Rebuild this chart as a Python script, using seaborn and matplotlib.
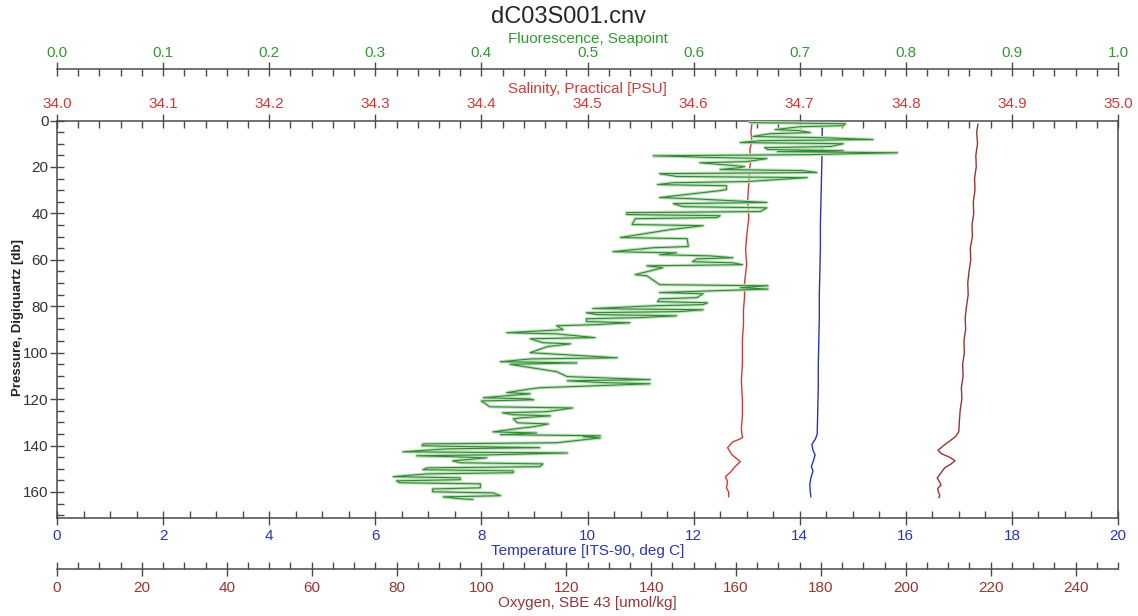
import matplotlib
matplotlib.use("Agg")
import matplotlib.pyplot as plt
import seaborn as sns
from matplotlib.ticker import MultipleLocator, FormatStrFormatter

# --- data ------------------------------------------------------------------
fluor_pres = [0.9, 1.4, 2.2, 2.7, 3.9, 4.4, 5.2, 5.7, 6.9, 7.4, 8.2, 8.7, 9.5, 10.0,
              11.2, 11.7, 12.5, 13.0, 13.4, 13.9, 14.7, 15.2, 15.9, 16.4, 17.7, 18.2,
              19.8, 20.3, 21.1, 21.6, 22.4, 22.9, 24.1, 24.6, 26.3, 26.8, 27.6, 28.1,
              29.7, 30.2, 33.2, 33.7, 35.3, 35.8, 37.1, 37.6, 39.2, 39.7, 40.5, 41.0,
              41.8, 42.3, 44.8, 45.3, 47.0, 50.4, 50.9, 54.3, 54.8, 56.5, 57.0, 57.8,
              58.3, 59.1, 59.6, 60.8, 61.3, 62.1, 62.6, 63.4, 66.4, 66.9, 70.7, 71.2,
              72.0, 72.6, 74.1, 74.6, 76.3, 76.8, 78.0, 78.5, 79.3, 79.8, 81.0, 81.5,
              82.3, 82.8, 83.6, 84.1, 84.9, 85.4, 86.6, 87.1, 87.9, 88.4, 90.1, 91.4,
              91.9, 93.5, 94.0, 95.7, 96.2, 97.4, 100.0, 100.5, 102.2, 102.7, 103.9,
              104.4, 105.0, 108.2, 110.3, 111.6, 112.1, 112.9, 113.4, 115.1, 115.6,
              117.2, 117.7, 119.4, 119.9, 120.3, 120.8, 123.3, 123.8, 125.4, 125.9,
              126.7, 127.2, 128.0, 128.5, 130.2, 130.7, 131.9, 132.4, 134.1, 134.6,
              135.3, 135.8, 136.2, 136.7, 138.8, 139.3, 140.1, 140.4, 140.9, 141.4,
              142.7, 143.2, 144.0, 144.4, 144.8, 145.3, 146.1, 146.6, 147.4, 147.9,
              149.1, 149.6, 150.4, 150.9, 151.7, 152.2, 153.4, 153.9, 154.7, 155.2,
              156.0, 156.5, 158.2, 158.7, 159.9, 160.4, 161.6, 162.1, 162.9, 163.2]
fluor_vals = [0.653, 0.743, 0.741, 0.700, 0.677, 0.700, 0.710, 0.672, 0.656, 0.722,
              0.769, 0.663, 0.644, 0.741, 0.729, 0.667, 0.670, 0.741, 0.679, 0.792,
              0.707, 0.562, 0.615, 0.669, 0.650, 0.606, 0.648, 0.644, 0.625, 0.703,
              0.716, 0.568, 0.584, 0.707, 0.650, 0.581, 0.566, 0.631, 0.631, 0.625,
              0.568, 0.599, 0.669, 0.581, 0.590, 0.669, 0.663, 0.537, 0.537, 0.625,
              0.622, 0.545, 0.542, 0.609, 0.578, 0.531, 0.594, 0.595, 0.562, 0.524,
              0.584, 0.568, 0.615, 0.637, 0.603, 0.599, 0.637, 0.646, 0.556, 0.571,
              0.545, 0.556, 0.568, 0.670, 0.644, 0.670, 0.568, 0.609, 0.603, 0.568,
              0.566, 0.613, 0.609, 0.562, 0.505, 0.609, 0.587, 0.499, 0.509, 0.584,
              0.549, 0.499, 0.499, 0.540, 0.509, 0.471, 0.477, 0.424, 0.471, 0.507,
              0.446, 0.458, 0.484, 0.462, 0.446, 0.465, 0.528, 0.446, 0.418, 0.490,
              0.427, 0.471, 0.481, 0.559, 0.481, 0.515, 0.559, 0.455, 0.446, 0.424,
              0.446, 0.402, 0.446, 0.449, 0.400, 0.408, 0.486, 0.462, 0.420, 0.430,
              0.465, 0.439, 0.430, 0.434, 0.463, 0.449, 0.439, 0.411, 0.452, 0.418,
              0.512, 0.496, 0.512, 0.471, 0.345, 0.344, 0.383, 0.455, 0.368, 0.326,
              0.481, 0.408, 0.339, 0.373, 0.405, 0.386, 0.373, 0.380, 0.458, 0.455,
              0.349, 0.345, 0.430, 0.430, 0.349, 0.317, 0.380, 0.380, 0.320, 0.323,
              0.399, 0.399, 0.354, 0.354, 0.411, 0.418, 0.364, 0.380, 0.392]

sal_pres = [1.3, 5.0, 9.0, 12.5, 17.0, 20.0, 27.0, 34.0, 42.0, 50.0, 55.6, 62.0, 70.0,
            76.0, 81.5, 88.0, 94.0, 98.7, 105.0, 112.0, 120.3, 127.0, 133.0, 136.6,
            137.5, 138.4, 140.9, 143.9, 146.9, 149.1, 151.3, 153.4, 155.6, 158.2,
            160.0, 162.1]
sal_vals = [34.655, 34.654, 34.655, 34.653, 34.654, 34.653, 34.652, 34.651, 34.652,
            34.650, 34.649, 34.650, 34.648, 34.648, 34.647, 34.647, 34.646, 34.646,
            34.646, 34.645, 34.646, 34.646, 34.645, 34.646, 34.642, 34.637, 34.632,
            34.636, 34.644, 34.639, 34.635, 34.630, 34.632, 34.631, 34.633, 34.633]

temp_pres = [1.7, 8.0, 15.0, 25.0, 35.0, 45.0, 55.0, 65.0, 75.0, 85.0, 95.0, 105.0,
             115.0, 125.0, 135.0, 137.0, 139.5, 142.0, 144.0, 146.5, 149.0, 151.0,
             154.0, 157.0, 160.0, 162.1]
temp_vals = [14.43, 14.42, 14.42, 14.41, 14.40, 14.39, 14.39, 14.38, 14.37, 14.37,
             14.36, 14.35, 14.35, 14.34, 14.33, 14.30, 14.23, 14.25, 14.29, 14.26,
             14.22, 14.25, 14.21, 14.19, 14.20, 14.21]

oxy_pres = [1.5, 5, 10, 15, 20, 25, 30, 35, 40, 45, 50, 55, 60, 65, 70, 75, 80, 85,
            90, 95, 100, 105, 110, 115, 120, 125, 130, 134, 136, 138, 140, 142, 143.5,
            145, 146.5, 148, 149.5, 151, 152.5, 154, 155.5, 157, 158.5, 160, 161.5,
            162.5]
oxy_vals = [217.0, 216.7, 216.9, 216.5, 216.6, 216.2, 216.3, 215.9, 216.0, 215.6,
            215.7, 215.2, 215.3, 214.9, 214.6, 214.7, 214.3, 214.0, 214.1, 213.7,
            213.8, 213.4, 213.5, 213.1, 213.2, 212.8, 212.6, 212.5, 211.8, 210.4,
            208.9, 207.6, 208.4, 210.3, 211.6, 210.6, 209.2, 208.6, 208.0, 207.4,
            207.9, 208.3, 207.5, 207.7, 208.0, 207.8]

# --- style -----------------------------------------------------------------
sns.set_style("white")
plt.rcParams["font.family"] = ["Liberation Sans Narrow", "Liberation Sans", "DejaVu Sans"]

GREEN = "#339933"
RED = "#d03a3a"
BLUE = "#2b35b0"
BROWN = "#953535"
AXC = "#4a4a4a"
W, H = 1138, 616

fig = plt.figure(figsize=(W / 100, H / 100), dpi=100)
ax_t = fig.add_axes([57 / W, 1 - 518 / H, (1118 - 57) / W, (518 - 120.5) / H])
ax_s = ax_t.twiny()
ax_f = ax_t.twiny()
ax_o = ax_t.twiny()

# lines
sns.lineplot(x=fluor_vals, y=fluor_pres, sort=False, estimator=None, ax=ax_f,
             color="#bfe0bf", lw=2.4)
sns.lineplot(x=fluor_vals, y=fluor_pres, sort=False, estimator=None, ax=ax_f,
             color="#338833", lw=0.8)
sns.lineplot(x=sal_vals, y=sal_pres, sort=False, estimator=None, ax=ax_s,
             color=RED, lw=1.0)
sns.lineplot(x=temp_vals, y=temp_pres, sort=False, estimator=None, ax=ax_t,
             color=BLUE, lw=1.0)
sns.lineplot(x=oxy_vals, y=oxy_pres, sort=False, estimator=None, ax=ax_o,
             color=BROWN, lw=1.0)

ax_t.set_ylim(171.2, 0)
ax_t.set_xlim(0, 20)
ax_s.set_xlim(34.0, 35.0)
ax_f.set_xlim(0.0, 1.0)
ax_o.set_xlim(0, 250)

for a in (ax_t, ax_s, ax_f, ax_o):
    for sp in a.spines.values():
        sp.set_visible(False)
        sp.set_color(AXC)
        sp.set_linewidth(1.1)
    a.set_xlabel("")
    a.set_ylabel("")
    a.grid(False)

ax_t.spines["left"].set_visible(True)
ax_t.spines["right"].set_visible(True)
ax_t.spines["bottom"].set_visible(True)
ax_s.spines["top"].set_visible(True)
ax_f.spines["top"].set_visible(True)
ax_f.spines["top"].set_position(("outward", (120.5 - 69) * 0.72))
ax_o.xaxis.set_ticks_position("bottom")
ax_o.spines["bottom"].set_visible(True)
ax_o.spines["bottom"].set_position(("outward", (569 - 518) * 0.72))

def style_axis(axis, major, minor, fmt):
    axis.set_major_locator(MultipleLocator(major))
    axis.set_minor_locator(MultipleLocator(minor))
    axis.set_major_formatter(FormatStrFormatter(fmt))

style_axis(ax_t.xaxis, 2, 0.5, "%d")
style_axis(ax_s.xaxis, 0.1, 0.02, "%.1f")
style_axis(ax_f.xaxis, 0.1, 0.02, "%.1f")
style_axis(ax_o.xaxis, 20, 5, "%d")
style_axis(ax_t.yaxis, 20, 5, "%d")

for a, col, pad in ((ax_t, BLUE, 3.0), (ax_s, RED, 1.5), (ax_f, GREEN, 1.2), (ax_o, BROWN, 3.5)):
    a.tick_params(axis="x", which="major", direction="inout", length=10, width=1.0,
                  color=AXC, labelcolor=col, labelsize=11, pad=pad)
    a.tick_params(axis="x", which="minor", direction="in", length=5, width=1.0, color=AXC)
ax_t.tick_params(axis="y", which="major", direction="inout", length=10, width=1.0,
                 color=AXC, labelcolor="#333333", labelsize=11, pad=1, left=True, right=False)
ax_t.tick_params(axis="y", which="minor", direction="in", length=5, width=1.0,
                 color=AXC, left=True, right=False)
for a in (ax_s, ax_f, ax_o):
    a.tick_params(axis="y", left=False, right=False, labelleft=False, labelright=False)

# titles
xc = (57 + 1118) / 2 / W
fig.text(0.5, 1 - 17 / H, "dC03S001.cnv", ha="center", va="center", fontsize=17,
         family=["Liberation Sans", "DejaVu Sans"])
fig.text(xc, 1 - 39 / H, "Fluorescence, Seapoint", ha="center", va="center",
         fontsize=11, color=GREEN)
fig.text(xc, 1 - 89 / H, "Salinity, Practical [PSU]", ha="center", va="center",
         fontsize=11, color=RED)
fig.text(xc, 1 - 551 / H, "Temperature [ITS-90, deg C]", ha="center", va="center",
         fontsize=11, color=BLUE)
fig.text(xc, 1 - 603 / H, "Oxygen, SBE 43 [umol/kg]", ha="center", va="center",
         fontsize=11, color=BROWN)
fig.text(18 / W, 1 - 318 / H, "Pressure, Digiquartz [db]", ha="center", va="center",
         rotation=90, fontsize=9.5, fontweight="bold", color="#222222",
         family=["Liberation Sans", "DejaVu Sans"])

fig.savefig("out.png", dpi=100, facecolor="white")
